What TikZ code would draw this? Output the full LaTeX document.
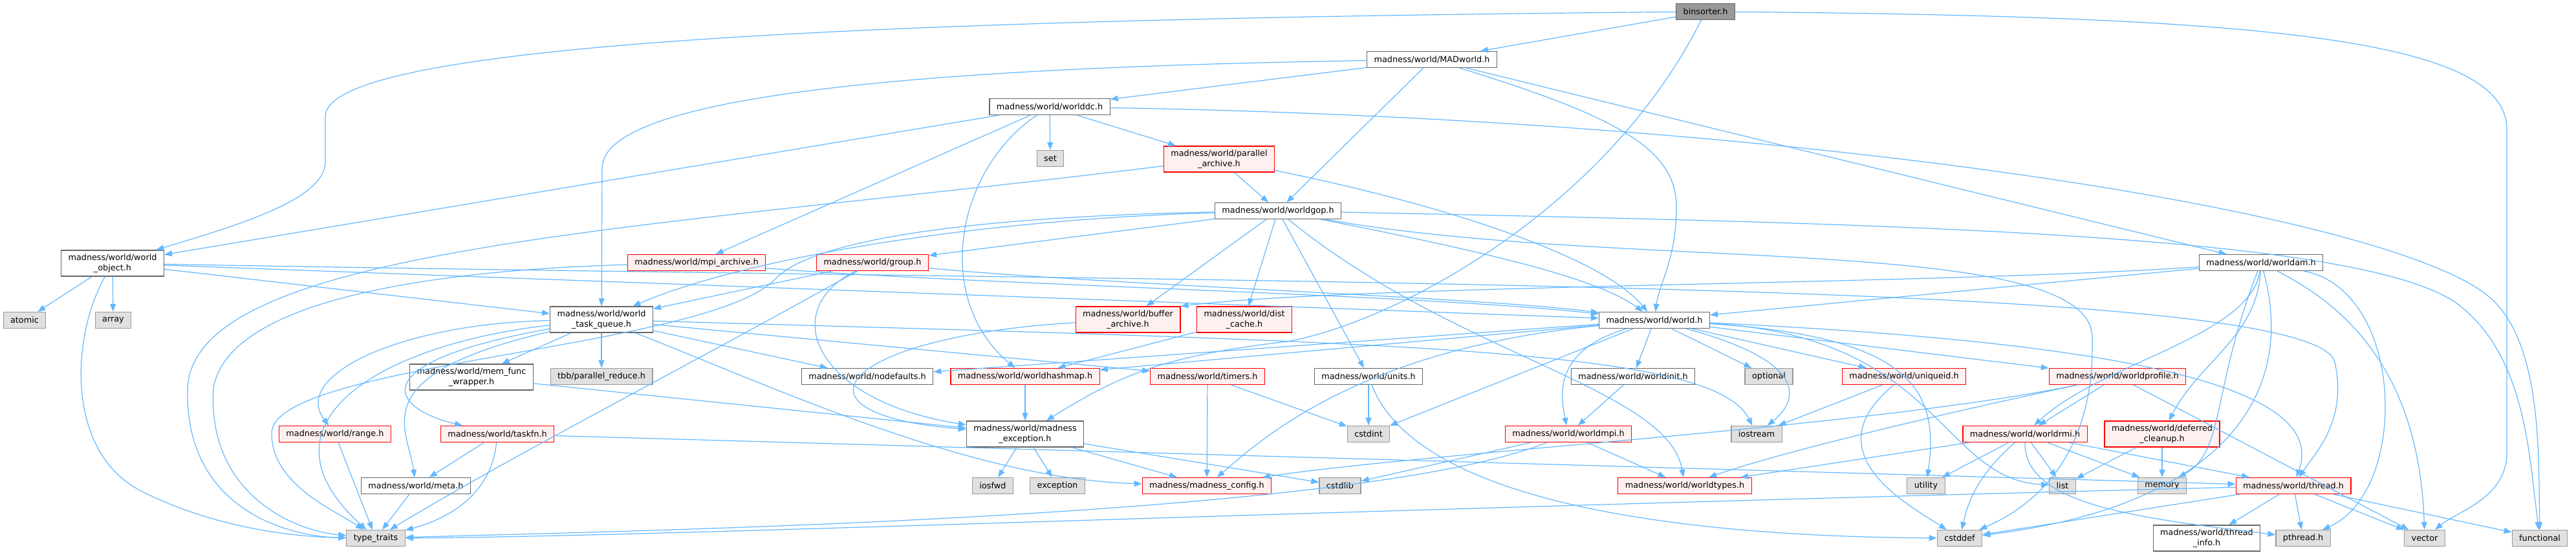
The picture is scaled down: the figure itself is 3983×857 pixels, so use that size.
\documentclass[tikz,border=0pt]{standalone}
\usepackage{fontspec}
\setmainfont{DejaVu Sans}
\usetikzlibrary{arrows.meta}
\definecolor{edgeblue}{HTML}{63B8FF}
\definecolor{nodeline}{HTML}{666666}
\definecolor{sysline}{HTML}{999999}
\definecolor{sysfill}{HTML}{E0E0E0}
\definecolor{redfill}{HTML}{FFF0F0}
\definecolor{rootfill}{HTML}{999999}
\newcommand{\graphfont}{\fontsize{6.4pt}{7.7pt}\selectfont}

\begin{document}
\begin{tikzpicture}[
    x=0.5pt, y=-0.5pt,
    box/.style={
        rectangle,
        align=center,
        font=\graphfont,
        inner xsep=5.5pt,
        inner ysep=3pt,
        minimum height=12.5pt,
        line width=0.6pt
    },
    filebox/.style={box, draw=nodeline, fill=white},
    sysbox/.style={box, draw=sysline, fill=sysfill},
    redbox/.style={box, draw=red, fill=redfill},
    rootbox/.style={box, draw=nodeline, fill=rootfill},
    dep/.style={-{Triangle[length=6pt,width=4.5pt]}, draw=edgeblue, line width=0.6pt}
]
    \useasboundingbox (0,0) rectangle (3983,857);

    \node[rootbox] (binsorter) at (2637,18) {binsorter.h};
    \node[filebox] (madworld) at (2214,92) {madness/world/MADworld.h};
    \node[filebox] (worlddc) at (1623,165) {madness/world/worlddc.h};
    \node[sysbox] (set) at (1624,245) {set};
    \node[redbox] (parallel) at (1885,246) {madness/world/parallel\\\_archive.h};
    \node[filebox] (worldgop) at (1976,326) {madness/world/worldgop.h};
    \node[filebox] (worldobject) at (174,407) {madness/world/world\\\_object.h};
    \node[redbox] (mpiarchive) at (1077,406) {madness/world/mpi\_archive.h};
    \node[redbox] (group) at (1349,406) {madness/world/group.h};
    \node[filebox] (worldam) at (3496,406) {madness/world/worldam.h};
    \node[sysbox] (atomic) at (38,495) {atomic};
    \node[sysbox] (array) at (175,495) {array};
    \node[filebox] (taskqueue) at (930,494) {madness/world/world\\\_task\_queue.h};
    \node[redbox] (bufferarchive) at (1744,494) {madness/world/buffer\\\_archive.h};
    \node[redbox] (distcache) at (1924,494) {madness/world/dist\\\_cache.h};
    \node[filebox] (world) at (2558,495) {madness/world/world.h};
    \node[filebox] (memfunc) at (729,583) {madness/world/mem\_func\\\_wrapper.h};
    \node[sysbox] (tbbreduce) at (930,582) {tbb/parallel\_reduce.h};
    \node[filebox] (nodefaults) at (1341,582) {madness/world/nodefaults.h};
    \node[redbox] (hashmap) at (1585,582) {madness/world/worldhashmap.h};
    \node[redbox] (timers) at (1867,582) {madness/world/timers.h};
    \node[filebox] (units) at (2116,582) {madness/world/units.h};
    \node[filebox] (worldinit) at (2525,582) {madness/world/worldinit.h};
    \node[sysbox] (optional) at (2735,582) {optional};
    \node[redbox] (uniqueid) at (2944,582) {madness/world/uniqueid.h};
    \node[redbox] (profile) at (3274,582) {madness/world/worldprofile.h};
    \node[redbox] (range) at (518,671) {madness/world/range.h};
    \node[redbox] (taskfn) at (769,671) {madness/world/taskfn.h};
    \node[filebox] (madexc) at (1585,671) {madness/world/madness\\\_exception.h};
    \node[sysbox] (cstdint) at (2116,671) {cstdint};
    \node[redbox] (worldmpi) at (2425,671) {madness/world/worldmpi.h};
    \node[sysbox] (iostream) at (2716,671) {iostream};
    \node[redbox] (worldrmi) at (3131,671) {madness/world/worldrmi.h};
    \node[redbox] (deferred) at (3343,671) {madness/world/deferred\\\_cleanup.h};
    \node[filebox] (meta) at (643,751) {madness/world/meta.h};
    \node[sysbox] (iosfwd) at (1535,751) {iosfwd};
    \node[sysbox] (stdexc) at (1635,751) {exception};
    \node[redbox] (config) at (1866,751) {madness/madness\_config.h};
    \node[sysbox] (cstdlib) at (2072,751) {cstdlib};
    \node[redbox] (worldtypes) at (2605,751) {madness/world/worldtypes.h};
    \node[sysbox] (utility) at (2978,751) {utility};
    \node[sysbox] (list) at (3189,751) {list};
    \node[sysbox] (memory) at (3343,751) {memory};
    \node[redbox] (thread) at (3546,751) {madness/world/thread.h};
    \node[sysbox] (typetraits) at (581,832) {type\_traits};
    \node[sysbox] (cstddef) at (3030,832) {cstddef};
    \node[filebox] (threadinfo) at (3412,832) {madness/world/thread\\\_info.h};
    \node[sysbox] (pthread) at (3561,832) {pthread.h};
    \node[sysbox] (vector) at (3749,832) {vector};
    \node[sysbox] (functional) at (3927,832) {functional};

    \draw[dep] (binsorter) -- (madworld);
    \draw[dep] (binsorter) .. controls (1300,30) and (503,70) .. (503,180) -- (503,250) .. controls (503,310) and (360,350) .. (worldobject);
    \draw[dep] (binsorter) .. controls (2480,330) and (2150,500) .. (1990,528) .. controls (1800,550) and (1730,580) .. (madexc);
    \draw[dep] (binsorter) .. controls (3500,25) and (3876,60) .. (3876,200) -- (3876,700) .. controls (3876,770) and (3800,790) .. (vector);

    \draw[dep] (madworld) -- (worlddc);
    \draw[dep] (madworld) .. controls (1400,105) and (931,150) .. (931,260) -- (taskqueue);
    \draw[dep] (madworld) -- (worldgop);
    \draw[dep] (madworld) .. controls (2500,180) and (2592,230) .. (2592,320) .. controls (2592,400) and (2565,440) .. (world);
    \draw[dep] (madworld) -- (worldam);

    \draw[dep] (worlddc) -- (worldobject);
    \draw[dep] (worlddc) -- (mpiarchive);
    \draw[dep] (worlddc) .. controls (1480,260) and (1440,460) .. (hashmap);
    \draw[dep] (worlddc) -- (set);
    \draw[dep] (worlddc) -- (parallel);
    \draw[dep] (worlddc) .. controls (2800,185) and (3700,330) .. (3850,460) .. controls (3930,530) and (3925,700) .. (functional);

    \draw[dep] (parallel) -- (worldgop);
    \draw[dep] (parallel) .. controls (2250,320) and (2480,400) .. (world);
    \draw[dep] (parallel) .. controls (1000,355) and (300,380) .. (290,600) .. controls (285,790) and (450,830) .. (typetraits);

    \draw[dep] (worldgop) -- (group);
    \draw[dep] (worldgop) .. controls (1500,340) and (1150,400) .. (taskqueue);
    \draw[dep] (worldgop) .. controls (2300,390) and (2470,430) .. (world);
    \draw[dep] (worldgop) -- (bufferarchive);
    \draw[dep] (worldgop) -- (distcache);
    \draw[dep] (worldgop) -- (units);
    \draw[dep] (worldgop) .. controls (2250,550) and (2580,600) .. (worldtypes);
    \draw[dep] (worldgop) .. controls (2900,345) and (3650,360) .. (3800,470) .. controls (3905,550) and (3910,700) .. (functional);
    \draw[dep] (worldgop) .. controls (2500,420) and (3230,360) .. (3235,520) .. controls (3240,700) and (3150,780) .. (cstddef);
    \draw[dep] (worldgop) .. controls (1500,335) and (1260,370) .. (1200,430) .. controls (1100,540) and (420,560) .. (420,670) .. controls (420,750) and (520,790) .. (typetraits);

    \draw[dep] (mpiarchive) .. controls (600,420) and (350,480) .. (330,600) .. controls (320,760) and (450,820) .. (typetraits);
    \draw[dep] (mpiarchive) .. controls (1500,440) and (2200,455) .. (world);
    \draw[dep] (group) -- (taskqueue);
    \draw[dep] (group) .. controls (1700,440) and (2300,460) .. (world);
    \draw[dep] (group) .. controls (1200,480) and (1260,620) .. (madexc);
    \draw[dep] (group) .. controls (1000,600) and (800,700) .. (typetraits);

    \draw[dep] (worldobject) -- (atomic);
    \draw[dep] (worldobject) -- (array);
    \draw[dep] (worldobject) .. controls (110,520) and (100,700) .. (220,760) .. controls (330,815) and (450,830) .. (typetraits);
    \draw[dep] (worldobject) -- (taskqueue);
    \draw[dep] (worldobject) -- (world);
    \draw[dep] (worldobject) .. controls (2000,440) and (3580,430) .. (3610,560) .. controls (3630,650) and (3580,700) .. (thread);

    \draw[dep] (taskqueue) -- (memfunc);
    \draw[dep] (taskqueue) -- (tbbreduce);
    \draw[dep] (taskqueue) -- (nodefaults);
    \draw[dep] (taskqueue) -- (timers);
    \draw[dep] (taskqueue) .. controls (620,500) and (450,580) .. (range);
    \draw[dep] (taskqueue) .. controls (560,560) and (600,630) .. (taskfn);
    \draw[dep] (taskqueue) .. controls (560,580) and (630,660) .. (meta);
    \draw[dep] (taskqueue) .. controls (600,530) and (380,650) .. (typetraits);
    \draw[dep] (taskqueue) .. controls (2200,530) and (2650,540) .. (iostream);
    \draw[dep] (taskqueue) .. controls (1200,600) and (1500,740) .. (config);

    \draw[dep] (range) -- (typetraits);
    \draw[dep] (taskfn) -- (meta);
    \draw[dep] (taskfn) .. controls (760,760) and (700,800) .. (typetraits);
    \draw[dep] (taskfn) -- (thread);
    \draw[dep] (meta) -- (typetraits);
    \draw[dep] (memfunc) -- (madexc);
    \draw[dep] (hashmap) -- (madexc);
    \draw[dep] (bufferarchive) .. controls (1300,520) and (1200,640) .. (madexc);
    \draw[dep] (distcache) -- (hashmap);
    \draw[dep] (timers) -- (config);
    \draw[dep] (timers) -- (cstdint);
    \draw[dep] (madexc) -- (iosfwd);
    \draw[dep] (madexc) -- (stdexc);
    \draw[dep] (madexc) -- (config);
    \draw[dep] (madexc) -- (cstdlib);
    \draw[dep] (units) -- (cstdint);
    \draw[dep] (units) .. controls (2200,800) and (2700,830) .. (cstddef);
    \draw[dep] (worldinit) -- (worldmpi);
    \draw[dep] (worldmpi) -- (cstdlib);
    \draw[dep] (worldmpi) -- (worldtypes);
    \draw[dep] (worldmpi) .. controls (2100,800) and (1000,820) .. (typetraits);

    \draw[dep] (world) .. controls (2410,540) and (2410,600) .. (worldmpi);
    \draw[dep] (world) -- (cstdint);
    \draw[dep] (world) -- (worldinit);
    \draw[dep] (world) -- (optional);
    \draw[dep] (world) -- (uniqueid);
    \draw[dep] (world) .. controls (2800,560) and (2780,620) .. (iostream);
    \draw[dep] (world) -- (profile);
    \draw[dep] (world) .. controls (3300,530) and (3600,600) .. (thread);
    \draw[dep] (world) .. controls (3000,520) and (3000,740) .. (list);
    \draw[dep] (world) .. controls (2950,520) and (3000,600) .. (utility);
    \draw[dep] (world) -- (nodefaults);
    \draw[dep] (world) -- (hashmap);
    \draw[dep] (world) .. controls (2100,540) and (1950,680) .. (config);

    \draw[dep] (uniqueid) -- (iostream);
    \draw[dep] (uniqueid) .. controls (2800,700) and (2950,780) .. (cstddef);
    \draw[dep] (profile) -- (worldrmi);
    \draw[dep] (profile) .. controls (3000,640) and (2750,700) .. (worldtypes);
    \draw[dep] (profile) -- (vector);
    \draw[dep] (profile) .. controls (2900,660) and (2200,700) .. (config);
    \draw[dep] (worldrmi) -- (utility);
    \draw[dep] (worldrmi) -- (list);
    \draw[dep] (worldrmi) -- (memory);
    \draw[dep] (worldrmi) -- (thread);
    \draw[dep] (worldrmi) .. controls (3130,780) and (3300,800) .. (pthread);
    \draw[dep] (worldrmi) -- (worldtypes);
    \draw[dep] (worldrmi) .. controls (3050,740) and (3040,790) .. (cstddef);
    \draw[dep] (deferred) -- (list);
    \draw[dep] (deferred) -- (memory);

    \draw[dep] (thread) -- (cstddef);
    \draw[dep] (thread) -- (threadinfo);
    \draw[dep] (thread) -- (pthread);
    \draw[dep] (thread) -- (vector);
    \draw[dep] (thread) -- (functional);
    \draw[dep] (thread) .. controls (2000,790) and (1000,830) .. (typetraits);

    \draw[dep] (worldam) -- (world);
    \draw[dep] (worldam) .. controls (3000,440) and (2100,440) .. (bufferarchive.north east);
    \draw[dep] (worldam) .. controls (3480,520) and (3250,560) .. (worldrmi);
    \draw[dep] (worldam) .. controls (3490,520) and (3400,560) .. (deferred);
    \draw[dep] (worldam) .. controls (3600,460) and (3740,550) .. (vector);
    \draw[dep] (worldam) .. controls (3720,450) and (3725,760) .. (pthread);
    \draw[dep] (worldam) .. controls (3420,600) and (3440,700) .. (memory);
    \draw[dep] (worldam) .. controls (3550,600) and (3450,780) .. (cstddef);
\end{tikzpicture}
\end{document}
